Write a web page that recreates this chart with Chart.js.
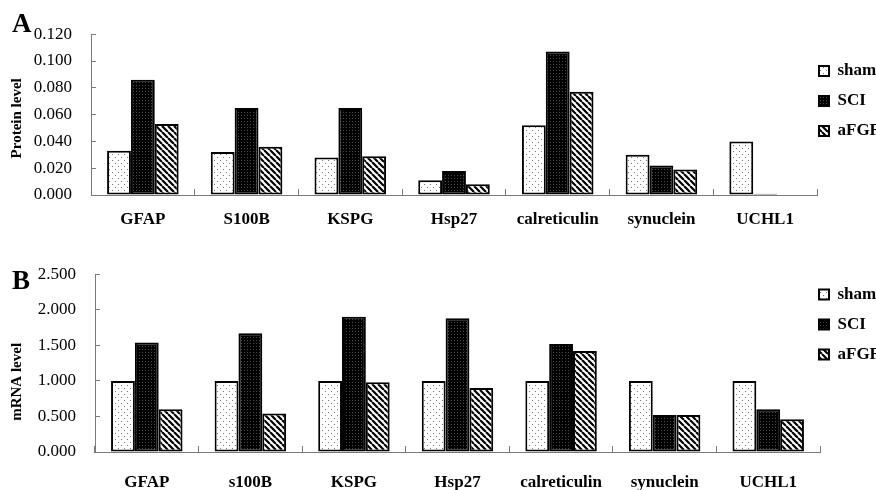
<!DOCTYPE html>
<html>
<head>
<meta charset="utf-8">
<script src="https://cdn.jsdelivr.net/npm/chart.js@4.4.1/dist/chart.umd.min.js"></script>
<style>
  html, body { margin: 0; padding: 0; background: #fff; overflow: hidden; }
  #wrap { position: relative; width: 876px; height: 490px; overflow: hidden; }
  canvas { position: absolute; left: 0; display: block; }
  #chartA { top: 0; }
  #chartB { top: 240px; }
  .panel { position: absolute; left: 12px; font: bold 27px "Liberation Serif", serif; line-height: 27px; color: #000; }
</style>
</head>
<body>
<div id="wrap">
  <canvas id="chartA" width="960" height="240"></canvas>
  <canvas id="chartB" width="960" height="250"></canvas>
  <div class="panel" style="top:10px">A</div>
  <div class="panel" style="top:267px">B</div>
</div>
<script>
// === Data ===
const seriesNames = ["sham", "SCI", "aFGF"];

const proteinCategories = ["GFAP", "S100B", "KSPG", "Hsp27", "calreticulin", "synuclein", "UCHL1"];
const proteinSham = [0.033, 0.032, 0.028, 0.011, 0.052, 0.030, 0.040];
const proteinSCI  = [0.086, 0.065, 0.065, 0.018, 0.107, 0.022, 0.001];
const proteinAFGF = [0.053, 0.036, 0.029, 0.008, 0.077, 0.019, 0];
const proteinTicks = ["0.000", "0.020", "0.040", "0.060", "0.080", "0.100", "0.120"];

const mrnaCategories = ["GFAP", "s100B", "KSPG", "Hsp27", "calreticulin", "synuclein", "UCHL1"];
const mrnaSham = [1.0, 1.0, 1.0, 1.0, 1.0, 1.0, 1.0];
const mrnaSCI  = [1.54, 1.67, 1.90, 1.88, 1.52, 0.52, 0.60];
const mrnaAFGF = [0.60, 0.54, 0.98, 0.90, 1.42, 0.52, 0.46];
const mrnaTicks = ["0.000", "0.500", "1.000", "1.500", "2.000", "2.500"];

const serif = "'Liberation Serif', 'Times New Roman', serif";
const axisGray = "#7a7a7a";

// === Fill patterns ===
function makePattern(w, h, draw) {
  const c = document.createElement("canvas");
  c.width = w;
  c.height = h;
  const g = c.getContext("2d");
  draw(g, w, h);
  return g.createPattern(c, "repeat");
}

const dotted = makePattern(6, 6, (g) => {
  g.fillStyle = "#fff";
  g.fillRect(0, 0, 6, 6);
  g.fillStyle = "#777";
  g.fillRect(1, 1, 1, 1);
  g.fillRect(4, 4, 1, 1);
});

const darkDotted = makePattern(3, 3, (g) => {
  g.fillStyle = "#000";
  g.fillRect(0, 0, 3, 3);
  g.fillStyle = "#4a4a4a";
  g.fillRect(1, 1, 1, 1);
});

const hatched = makePattern(6, 6, (g) => {
  g.fillStyle = "#fff";
  g.fillRect(0, 0, 6, 6);
  g.strokeStyle = "#000";
  g.lineWidth = 2.2;
  g.beginPath();
  [-6, 0, 6].forEach((k) => {
    g.moveTo(k, 0);
    g.lineTo(k + 6, 6);
  });
  g.stroke();
});

const fills = [dotted, darkDotted, hatched];

// slide the legend so its boxes sit where the figure has them
const legendNudge = {
  id: "legendNudge",
  afterLayout(chart, args, opts) {
    const lg = chart.legend;
    if (!lg || opts.boxX == null) return;
    const dx = lg.left + lg.options.labels.padding - opts.boxX;
    lg.left -= dx;
    lg.right -= dx;
  },
};

function buildChart(id, cfg) {
  const datasets = cfg.series.map((vals, i) => ({
    label: seriesNames[i],
    data: vals,
    backgroundColor: fills[i],
    borderColor: "#000",
    borderWidth: 2,
    borderSkipped: false,
  }));

  const chart = new Chart(document.getElementById(id), {
    type: "bar",
    data: { labels: cfg.labels, datasets },
    plugins: [legendNudge],
    options: {
      responsive: false,
      animation: false,
      layout: { padding: { left: 0, right: 0, top: cfg.top, bottom: 0 } },
      datasets: { bar: { categoryPercentage: 0.69, barPercentage: 1.0 } },
      plugins: {
        tooltip: { enabled: false },
        legendNudge: { boxX: 819 },
        legend: {
          position: "right",
          align: "start",
          title: cfg.legendTitle,
          labels: {
            boxWidth: 10,
            boxHeight: 10,
            padding: 13,
            color: "#000",
            font: { family: serif, size: 17, weight: "bold" },
          },
        },
      },
      scales: {
        x: {
          grid: { drawOnChartArea: false, drawTicks: true, tickLength: -6, color: axisGray },
          border: { color: axisGray, width: 1 },
          ticks: {
            color: "#000",
            font: { family: serif, size: 17, weight: "bold" },
            padding: cfg.xPad,
            maxRotation: 0,
            autoSkip: false,
          },
          afterFit: (s) => { s.height = cfg.xHeight; },
        },
        y: {
          min: 0,
          max: cfg.yMax,
          grid: { drawOnChartArea: false, drawTicks: true, tickLength: -5, color: axisGray },
          border: { color: axisGray, width: 1 },
          ticks: {
            stepSize: cfg.yStep,
            color: "#000",
            padding: 24,
            font: { family: serif, size: 17 },
            callback: (v, i) => cfg.tickLabels[i],
          },
          title: {
            display: true,
            text: cfg.yTitle,
            color: "#000",
            font: { family: serif, size: 15, weight: "bold" },
            padding: { top: 8, bottom: 0 },
          },
          afterFit: (s) => { s.width = cfg.yWidth; },
        },
      },
    },
  });

  // push the legend out so the plot ends where the figure's axis ends
  const diff = chart.chartArea.right - cfg.right;
  if (diff > 0) {
    chart.options.layout.padding.right = diff;
    chart.update();
  }
  return chart;
}

buildChart("chartA", {
  labels: proteinCategories,
  series: [proteinSham, proteinSCI, proteinAFGF],
  yMax: 0.12,
  yStep: 0.02,
  tickLabels: proteinTicks,
  yTitle: "Protein level  ",
  top: 18,
  xHeight: 45,
  xPad: 20,
  yWidth: 91,
  right: 817,
  legendTitle: { display: true, text: "", font: { size: 10 }, padding: { top: 0, bottom: 19.5 } },
});

buildChart("chartB", {
  labels: mrnaCategories,
  series: [mrnaSham, mrnaSCI, mrnaAFGF],
  yMax: 2.5,
  yStep: 0.5,
  tickLabels: mrnaTicks,
  yTitle: "mRNA level          ",
  top: 33,
  xHeight: 38,
  xPad: 26,
  yWidth: 95,
  right: 820,
  legendTitle: { display: false },
});
</script>
</body>
</html>
